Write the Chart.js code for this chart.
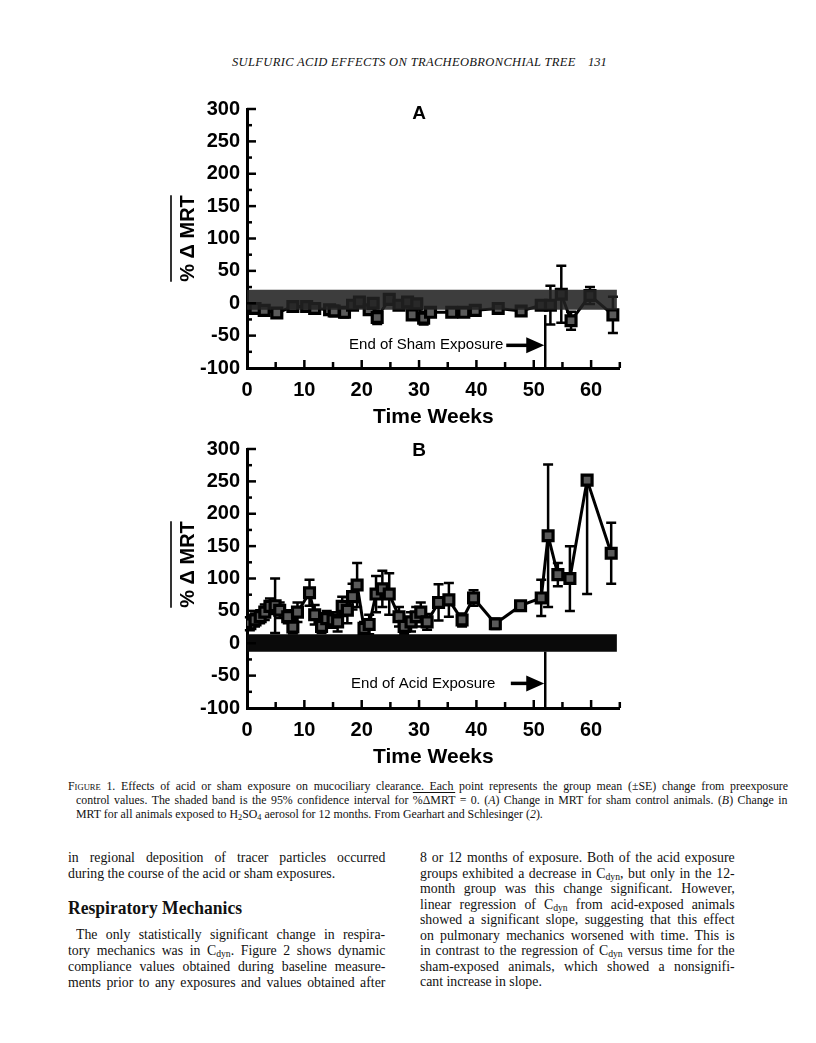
<!DOCTYPE html>
<html>
<head>
<meta charset="utf-8">
<script src="https://cdn.jsdelivr.net/npm/chart.js@4.4.0/dist/chart.umd.min.js"></script>
<style>
  body { margin: 0; width: 816px; height: 1043px; position: relative; overflow: hidden; background: #fff; color: #111; font-family: "Liberation Serif", "Times New Roman", serif; }
  .abs { position: absolute; white-space: nowrap; }
  canvas { position: absolute; }
  .ln { position: absolute; white-space: nowrap; transform-origin: 0 0; }
  .j { text-align: justify; text-align-last: justify; }
  .cap { font-size: 12.5px; line-height: 14px; transform: scaleX(0.95); }
  .body { font-size: 15px; line-height: 16px; transform: scaleX(0.92); }
  sub { font-size: 70%; vertical-align: -2px; line-height: 0; }
  .ov { text-decoration: overline; }
</style>
</head>
<body>
<div class="abs" style="left:232px; top:55px; font-style:italic; font-size:12.5px; letter-spacing:0.35px;">SULFURIC ACID EFFECTS ON TRACHEOBRONCHIAL TREE</div>
<div class="abs" style="left:588px; top:55px; font-style:italic; font-size:12.5px;">131</div>

<canvas id="chartA" width="480" height="340" style="left:150px; top:90px;"></canvas>
<canvas id="chartB" width="480" height="340" style="left:150px; top:430px;"></canvas>

<div class="ln cap j" style="left:68px; top:779px; width:758px;"><span style="font-variant:small-caps">Figure</span> 1. Effects of acid or sham exposure on mucociliary clearance. Each point represents the group mean (±SE) change from preexposure</div>
<div class="ln cap j" style="left:76px; top:793px; width:749px;">control values. The shaded band is the 95% confidence interval for <span class="ov">%ΔMRT</span> = 0. (<i>A</i>) Change in MRT for sham control animals. (<i>B</i>) Change in</div>
<div class="ln cap" style="left:76px; top:807px; width:749px;">MRT for all animals exposed to H<sub>2</sub>SO<sub>4</sub> aerosol for 12 months. From Gearhart and Schlesinger (<i>2</i>).</div>

<div class="ln body j" style="left:68px; top:849px; width:345px;">in regional deposition of tracer particles occurred</div>
<div class="ln body" style="left:68px; top:865px; width:345px;">during the course of the acid or sham exposures.</div>
<div class="ln" style="left:68px; top:897px; font-weight:bold; font-size:19.5px; transform:scaleX(0.9);">Respiratory Mechanics</div>
<div class="ln body j" style="left:76px; top:926px; width:336px;">The only statistically significant change in respira-</div>
<div class="ln body j" style="left:68px; top:942px; width:345px;">tory mechanics was in C<sub>dyn</sub>. Figure 2 shows dynamic</div>
<div class="ln body j" style="left:68px; top:958px; width:345px;">compliance values obtained during baseline measure-</div>
<div class="ln body j" style="left:68px; top:974px; width:345px;">ments prior to any exposures and values obtained after</div>

<div class="ln body j" style="left:420px; top:849px; width:342px;">8 or 12 months of exposure. Both of the acid exposure</div>
<div class="ln body j" style="left:420px; top:864.5px; width:342px;">groups exhibited a decrease in C<sub>dyn</sub>, but only in the 12-</div>
<div class="ln body j" style="left:420px; top:880px; width:342px;">month group was this change significant. However,</div>
<div class="ln body j" style="left:420px; top:895.5px; width:342px;">linear regression of C<sub>dyn</sub> from acid-exposed animals</div>
<div class="ln body j" style="left:420px; top:911px; width:342px;">showed a significant slope, suggesting that this effect</div>
<div class="ln body j" style="left:420px; top:926.5px; width:342px;">on pulmonary mechanics worsened with time. This is</div>
<div class="ln body j" style="left:420px; top:942px; width:342px;">in contrast to the regression of C<sub>dyn</sub> versus time for the</div>
<div class="ln body j" style="left:420px; top:957.5px; width:342px;">sham-exposed animals, which showed a nonsignifi-</div>
<div class="ln body" style="left:420px; top:973px; width:342px;">cant increase in slope.</div>

<script>
// panel A: sham exposure
var shamWeeks = [1.4, 3, 5.2, 8, 10.4, 11.8, 14.4, 15.2, 17, 18.4, 19.6, 21.3, 22, 22.7, 24.8, 26.5, 28, 28.8, 29.6, 30.8, 32, 35.7, 37.8, 39.8, 43.8, 47.8, 51.3, 52.9, 54.8, 56.5, 59.8, 63.8];
var shamMean  = [-8, -11, -15, -5, -5, -8, -10, -12, -14, -3, 2, -10, 0, -22, 6, -3, 2, -18, -1, -23, -14, -14, -14, -11, -8, -12, -3, -3, 14, -27, 12, -18];
var shamSE    = [4, 4, 4, 4, 4, 4, 5, 8, 8, 5, 5, 5, 5, 10, 5, 5, 5, 6, 5, 10, 5, 4, 4, 4, 4, 4, 4, 30, 44, 14, 13, 28];

// panel B: acid exposure
var acidWeeks = [0.5, 1.4, 2.3, 3.1, 4, 4.9, 5.7, 7.1, 8, 8.8, 10.9, 11.8, 13, 13.9, 15, 15.8, 16.6, 17.5, 18.4, 19.2, 20.4, 21.3, 22.5, 23.6, 24.8, 26.5, 27.4, 28.6, 29.5, 30.3, 31.4, 33.4, 35.2, 37.5, 39.5, 43.3, 47.7, 51.3, 52.5, 54.2, 56.3, 59.3, 63.5];
var acidMean  = [30, 36, 41, 48, 57, 58, 51, 41, 25, 48, 78, 44, 26, 38, 36, 33, 57, 51, 72, 90, 23, 29, 76, 84, 76, 41, 26, 33, 41, 48, 33, 63, 67, 36, 70, 30, 58, 70, 166, 106, 100, 252, 139];
var acidSE    = [10, 10, 10, 12, 12, 42, 12, 10, 10, 15, 20, 15, 10, 12, 12, 15, 15, 20, 20, 34, 10, 15, 28, 28, 32, 15, 12, 15, 15, 15, 12, 28, 26, 10, 12, 8, 5, 28, 110, 18, 50, 176, 47];

// 95% confidence band for %dMRT = 0
var bandWeeks = [0, 64.5];
var shamBand = [-10, 21];
var acidBand = [-13, 14];

var xLabels = [0, 10, 20, 30, 40, 50, 60];
var endWeek = 52;

function paperPlugin(o) {
  return {
    id: 'paper' + o.panel,
    beforeDatasetsDraw: function (chart) {
      var ctx = chart.ctx, x = chart.scales.x, y = chart.scales.y;
      ctx.save();
      ctx.strokeStyle = '#000';
      ctx.lineWidth = 2.5;
      o.weeks.forEach(function (w, i) {
        var px = x.getPixelForValue(w);
        var py0 = y.getPixelForValue(o.mean[i]);
        [o.mean[i] - o.se[i], o.mean[i] + o.se[i]].forEach(function (v) {
          if (v > y.max || v < y.min) return;
          var py = y.getPixelForValue(v);
          ctx.beginPath();
          ctx.moveTo(px, py0); ctx.lineTo(px, py);
          ctx.moveTo(px - 5, py); ctx.lineTo(px + 5, py);
          ctx.stroke();
        });
      });
      ctx.restore();
    },
    afterDraw: function (chart) {
      var ctx = chart.ctx, x = chart.scales.x, y = chart.scales.y, a = chart.chartArea;
      ctx.save();
      ctx.strokeStyle = '#000';
      ctx.fillStyle = '#000';
      ctx.lineWidth = 2.5;
      // inward ticks
      for (var v = 5; v <= 65; v += 5) {
        var px = x.getPixelForValue(v);
        ctx.beginPath();
        ctx.moveTo(px, a.bottom); ctx.lineTo(px, a.bottom - (v % 10 === 0 ? 8 : 6));
        ctx.stroke();
      }
      for (var t = -75; t <= 300; t += 25) {
        var py = y.getPixelForValue(t);
        ctx.beginPath();
        ctx.moveTo(a.left, py); ctx.lineTo(a.left + (t % 50 === 0 ? 9 : 5), py);
        ctx.stroke();
      }
      // end of exposure marker
      var ex = x.getPixelForValue(endWeek);
      ctx.beginPath();
      ctx.moveTo(ex, y.getPixelForValue(-100)); ctx.lineTo(ex, y.getPixelForValue(o.endTop));
      ctx.stroke();
      var ny = y.getPixelForValue(o.noteY);
      ctx.font = '15px "Liberation Sans", Arial, sans-serif';
      ctx.textAlign = 'right';
      ctx.textBaseline = 'middle';
      ctx.fillText(o.note, x.getPixelForValue(o.noteEnd), ny);
      var ax0 = x.getPixelForValue(o.arrowStart), ax1 = ex - 1;
      ctx.lineWidth = 3.5;
      ctx.beginPath();
      ctx.moveTo(ax0, ny); ctx.lineTo(ax1 - 14, ny);
      ctx.stroke();
      ctx.beginPath();
      ctx.moveTo(ax1 - 18, ny - 8); ctx.lineTo(ax1, ny); ctx.lineTo(ax1 - 18, ny + 8);
      ctx.closePath();
      ctx.fill();
      // panel letter
      ctx.font = 'bold 19px "Liberation Sans", Arial, sans-serif';
      ctx.textAlign = 'center';
      ctx.fillText(o.panel, x.getPixelForValue(30), a.top + o.panelDy);
      // y title with overline
      var cx = a.left - 60, cy = (a.top + a.bottom) / 2 + o.titleDy;
      ctx.translate(cx, cy);
      ctx.rotate(-Math.PI / 2);
      ctx.font = 'bold 20px "Liberation Sans", Arial, sans-serif';
      ctx.textBaseline = 'alphabetic';
      var label = '% \u0394 MRT';
      var w = ctx.measureText(label).width;
      ctx.fillText(label, 0, 7);
      ctx.lineWidth = 1.6;
      ctx.beginPath();
      ctx.moveTo(-w / 2, -16); ctx.lineTo(w / 2, -16);
      ctx.stroke();
      ctx.restore();
    }
  };
}

function makeChart(id, o) {
  var bandOrder = o.bandOnTop ? 1 : 3;
  var seriesOrder = o.bandOnTop ? 3 : 1;
  return new Chart(document.getElementById(id), {
    type: 'line',
    data: {
      datasets: [
        {
          data: bandWeeks.map(function (w) { return { x: w, y: o.band[0] }; }),
          borderWidth: 0, pointRadius: 0, fill: false, order: bandOrder
        },
        {
          data: bandWeeks.map(function (w) { return { x: w, y: o.band[1] }; }),
          borderWidth: 0, pointRadius: 0, fill: '-1',
          backgroundColor: o.bandColor, order: bandOrder
        },
        {
          data: o.weeks.map(function (w, i) { return { x: w, y: o.mean[i] }; }),
          borderColor: '#000', borderWidth: 3, tension: 0, fill: false,
          pointStyle: 'rect', pointRadius: 7,
          pointBackgroundColor: '#5a5a5a', pointBorderColor: '#000', pointBorderWidth: 3.2,
          order: seriesOrder
        }
      ]
    },
    options: {
      responsive: false,
      animation: false,
      events: [],
      layout: { padding: { left: 0, right: 10, top: 14, bottom: 0 } },
      plugins: { legend: { display: false }, tooltip: { enabled: false } },
      scales: {
        x: {
          type: 'linear', min: 0, max: 65,
          afterFit: function (s) { s.height = 62; },
          border: { color: '#000', width: 3 },
          grid: { drawOnChartArea: false, drawTicks: false },
          ticks: {
            stepSize: 5, autoSkip: false, maxRotation: 0, padding: 10, color: '#000',
            font: { family: '"Liberation Sans", Arial, sans-serif', size: 20, weight: 'bold' },
            callback: function (v) { return xLabels.indexOf(v) >= 0 ? String(v) : ''; }
          },
          title: {
            display: true, text: 'Time Weeks', color: '#000', padding: { top: -2, bottom: 0 },
            font: { family: '"Liberation Sans", Arial, sans-serif', size: 21, weight: 'bold' }
          }
        },
        y: {
          min: -100, max: 300,
          afterFit: function (s) { s.width = 97; },
          border: { color: '#000', width: 3 },
          grid: { drawOnChartArea: false, drawTicks: false },
          ticks: {
            stepSize: 50, padding: 7, color: '#000',
            font: { family: '"Liberation Sans", Arial, sans-serif', size: 20, weight: 'bold' }
          }
        }
      }
    },
    plugins: [paperPlugin(o)]
  });
}

makeChart('chartA', {
  panel: 'A', panelDy: 5, titleDy: 0,
  weeks: shamWeeks, mean: shamMean, se: shamSE,
  band: shamBand, bandColor: 'rgba(34,34,34,0.88)', bandOnTop: true,
  note: 'End of Sham Exposure', noteY: -65, noteEnd: 44.7, arrowStart: 45.2, endTop: -18
});

makeChart('chartB', {
  panel: 'B', panelDy: 2, titleDy: -14,
  weeks: acidWeeks, mean: acidMean, se: acidSE,
  band: acidBand, bandColor: '#0a0a0a', bandOnTop: false,
  note: 'End of Acid Exposure', noteY: -62, noteEnd: 43.3, arrowStart: 46, endTop: -13
});
</script>
</body>
</html>
